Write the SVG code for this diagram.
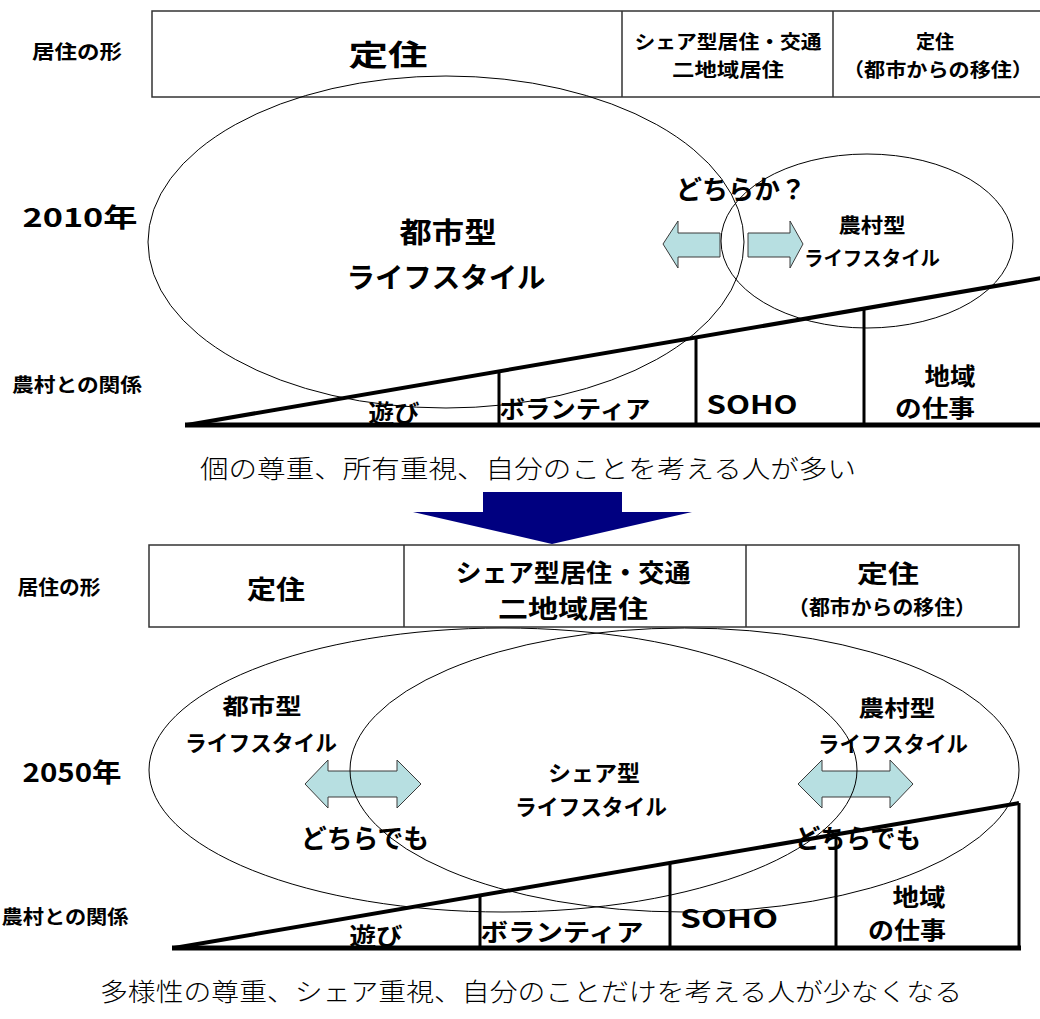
<svg xmlns="http://www.w3.org/2000/svg" width="1040" height="1019" viewBox="0 0 1040 1019">
<style>
.t{font-family:"Noto Sans CJK JP","Liberation Sans",sans-serif;font-weight:bold;fill:#000;text-anchor:middle;dominant-baseline:central}
.s{font-family:"Noto Sans CJK JP","Liberation Serif",serif;font-weight:300;fill:#000;text-anchor:middle;dominant-baseline:central}
.box{fill:#fff;stroke:#333;stroke-width:1.5}
.div{stroke:#333;stroke-width:1.5;fill:none}
.ell{fill:none;stroke:#000;stroke-width:1}
.slant{stroke:#000;stroke-width:4;fill:none}
.base{stroke:#000;stroke-width:5;fill:none}
.col{stroke:#000;stroke-width:3;fill:none}
.la{fill:#b7dfe1;stroke:#3a3a3a;stroke-width:1}
</style>
<rect width="1040" height="1019" fill="#fff"/>

<!-- ===== 2010 ===== -->
<g id="table-2010">
  <rect class="box" x="152" y="11" width="900" height="86"/>
  <path class="div" d="M622,11V97M833,11V97"/>
  <text class="t" x="77" y="50" font-size="19" textLength="90" lengthAdjust="spacingAndGlyphs">居住の形</text>
  <text class="t" x="388" y="53" font-size="29" textLength="79" lengthAdjust="spacingAndGlyphs">定住</text>
  <text class="t" x="728" y="40" font-size="19" textLength="187" lengthAdjust="spacingAndGlyphs">シェア型居住・交通</text>
  <text class="t" x="728" y="68" font-size="19" textLength="112" lengthAdjust="spacingAndGlyphs">二地域居住</text>
  <text class="t" x="935" y="40" font-size="19">定住</text>
  <text class="t" x="938" y="68" font-size="19" textLength="190" lengthAdjust="spacingAndGlyphs">（都市からの移住）</text>
</g>

<g id="wedge-2010">
  <path class="slant" d="M187,425L1042,278"/>
  <path class="base" d="M185,425H1040"/>
  <path class="col" d="M499,371V425M696,337V425M864,308V425"/>
  <text class="t" x="77" y="383" font-size="19" textLength="130" lengthAdjust="spacingAndGlyphs">農村との関係</text>
  <text class="t" x="394" y="411" font-size="24" textLength="51" lengthAdjust="spacingAndGlyphs">遊び</text>
  <text class="t" x="575" y="407" font-size="24" textLength="151" lengthAdjust="spacingAndGlyphs">ボランティア</text>
  <text class="t" x="752" y="403" font-size="25" textLength="91" lengthAdjust="spacingAndGlyphs">SOHO</text>
  <text class="t" x="950" y="374" font-size="24" textLength="51" lengthAdjust="spacingAndGlyphs">地域</text>
  <text class="t" x="935" y="406" font-size="24" textLength="80" lengthAdjust="spacingAndGlyphs">の仕事</text>
</g>

<g id="connectors">
  <polygon class="la" points="663,244 678,221 678,233 720,233 720,257 678,257 678,268"/>
  <polygon class="la" points="748,233 790,233 790,221 803,244 790,268 790,257 748,257"/>
  <polygon fill="#000080" points="483,492 622,492 622,512 692,512 552,544 413,512 483,512"/>
  <polygon class="la" points="305,784 328,760 328,771 397,771 397,760 421,784 397,808 397,797 328,797 328,808"/>
  <polygon class="la" points="798,784 822,760 822,771 890,771 890,760 913,784 890,808 890,797 822,797 822,808"/>
</g>

<g id="city-2010">
  <ellipse class="ell" cx="446" cy="242" rx="298" ry="166"/>
  <text class="t" x="448" y="231" font-size="28" textLength="97" lengthAdjust="spacingAndGlyphs">都市型</text>
  <text class="t" x="446" y="276" font-size="28" textLength="199" lengthAdjust="spacingAndGlyphs">ライフスタイル</text>
</g>
<g id="rural-2010">
  <ellipse class="ell" cx="867" cy="241" rx="146" ry="87"/>
  <text class="t" x="872" y="224" font-size="20" textLength="67" lengthAdjust="spacingAndGlyphs">農村型</text>
  <text class="t" x="872" y="257" font-size="20" textLength="136" lengthAdjust="spacingAndGlyphs">ライフスタイル</text>
</g>
<g id="labels-2010">
  <text class="t" x="80" y="215" font-size="26" textLength="115" lengthAdjust="spacingAndGlyphs">2010年</text>
  <text class="t" x="741" y="187" font-size="26" textLength="130" lengthAdjust="spacingAndGlyphs">どちらか？</text>
</g>

<g id="transition">
  <text class="s" x="528" y="467" font-size="25" textLength="656" lengthAdjust="spacingAndGlyphs">個の尊重、所有重視、自分のことを考える人が多い</text>
</g>

<!-- ===== 2050 ===== -->
<g id="table-2050">
  <rect class="box" x="149" y="545" width="870" height="82"/>
  <path class="div" d="M404,545V627M746,545V627"/>
  <text class="t" x="59" y="586" font-size="20" textLength="83" lengthAdjust="spacingAndGlyphs">居住の形</text>
  <text class="t" x="276" y="587" font-size="26" textLength="58" lengthAdjust="spacingAndGlyphs">定住</text>
  <text class="t" x="573" y="571" font-size="25" textLength="235" lengthAdjust="spacingAndGlyphs">シェア型居住・交通</text>
  <text class="t" x="573" y="607" font-size="25" textLength="150" lengthAdjust="spacingAndGlyphs">二地域居住</text>
  <text class="t" x="888" y="572" font-size="25" textLength="62" lengthAdjust="spacingAndGlyphs">定住</text>
  <text class="t" x="882" y="606" font-size="20" textLength="188" lengthAdjust="spacingAndGlyphs">（都市からの移住）</text>
</g>

<g id="wedge-2050">
  <path class="slant" d="M174,948L1019,803"/>
  <path class="base" d="M172,948H1021"/>
  <path class="col" d="M480,895V948M670,863V948M836,834V948M1019,803V948"/>
  <text class="t" x="65" y="915" font-size="19" textLength="127" lengthAdjust="spacingAndGlyphs">農村との関係</text>
  <text class="t" x="376" y="934" font-size="24" textLength="53" lengthAdjust="spacingAndGlyphs">遊び</text>
  <text class="t" x="562" y="930" font-size="24" textLength="163" lengthAdjust="spacingAndGlyphs">ボランティア</text>
  <text class="t" x="729" y="917" font-size="25" textLength="98" lengthAdjust="spacingAndGlyphs">SOHO</text>
  <text class="t" x="919" y="895" font-size="24" textLength="53" lengthAdjust="spacingAndGlyphs">地域</text>
  <text class="t" x="907" y="928" font-size="24" textLength="78" lengthAdjust="spacingAndGlyphs">の仕事</text>
</g>

<g id="city-2050">
  <ellipse class="ell" cx="503" cy="770" rx="354" ry="142"/>
  <text class="t" x="262" y="704" font-size="22" textLength="79" lengthAdjust="spacingAndGlyphs">都市型</text>
  <text class="t" x="261" y="741" font-size="22" textLength="152" lengthAdjust="spacingAndGlyphs">ライフスタイル</text>
</g>
<g id="share-2050">
  <ellipse class="ell" cx="684.5" cy="770" rx="334.5" ry="142"/>
  <text class="t" x="594" y="771" font-size="22" textLength="92" lengthAdjust="spacingAndGlyphs">シェア型</text>
  <text class="t" x="591" y="805" font-size="22" textLength="152" lengthAdjust="spacingAndGlyphs">ライフスタイル</text>
</g>
<g id="rural-2050">
  <text class="t" x="897" y="706" font-size="22" textLength="77" lengthAdjust="spacingAndGlyphs">農村型</text>
  <text class="t" x="893" y="742" font-size="22" textLength="150" lengthAdjust="spacingAndGlyphs">ライフスタイル</text>
</g>
<g id="labels-2050">
  <text class="t" x="72" y="770" font-size="26" textLength="99" lengthAdjust="spacingAndGlyphs">2050年</text>
  <text class="t" x="365" y="836" font-size="26" textLength="128" lengthAdjust="spacingAndGlyphs">どちらでも</text>
  <text class="t" x="858" y="836" font-size="26" textLength="126" lengthAdjust="spacingAndGlyphs">どちらでも</text>
</g>

<g id="conclusion">
  <text class="s" x="531" y="990" font-size="25" textLength="862" lengthAdjust="spacingAndGlyphs">多様性の尊重、シェア重視、自分のことだけを考える人が少なくなる</text>
</g>
</svg>
